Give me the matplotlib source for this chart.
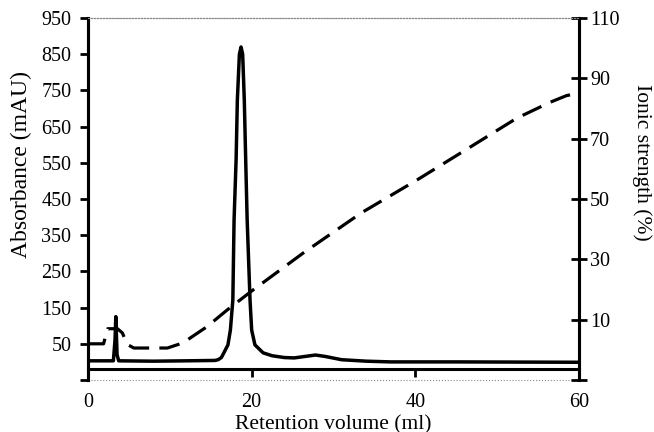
import numpy as np
import matplotlib.pyplot as plt

plt.rcParams['font.family'] = ['Liberation Serif', 'DejaVu Serif']

# absorbance trace (mAU) vs retention volume (ml)
vol_abs = [0, 3.1, 3.3, 3.4, 3.55, 3.75, 8, 12, 15.5, 15.9, 16.3, 16.6, 17.1, 17.4,
           17.7, 17.85, 18.1, 18.25, 18.5, 18.7, 18.9, 19.1, 19.3, 19.45, 19.8,
           20.0, 20.4, 21.4, 22.5, 24, 25.2, 26.5, 27.8, 29, 31, 34, 37, 45, 60]
absorb = [3, 3, 60, 125, 20, 3, 2, 3, 4, 6, 12, 25, 47, 88,
          171, 392, 560, 723, 850, 870, 850, 723, 530, 392, 171,
          88, 47, 25, 17, 12, 11, 15, 19, 15, 6, 2, 0, 0, -1]

# ionic strength (%) vs retention volume (ml)
vol_ion = [0, 1.9, 2.1, 2.4, 3.6, 4.2, 4.8, 5.6, 9.7, 11.6, 14.5, 17, 20,
           26.3, 33.4, 40.2, 46.7, 52.4, 56.5, 58.5, 60]
ionic = [2, 2, 4, 7, 7, 5.6, 1.8, 0.6, 0.6, 2.3, 7.6, 13.2, 19.5,
         32.1, 45.4, 56.3, 67.2, 76.8, 82.1, 84.3, 85]

x_ticks = [0, 20, 40, 60]
left_ticks = np.arange(-50, 951, 100)
right_ticks = np.arange(-10, 111, 20)

fig = plt.figure(figsize=(6.54, 4.32), dpi=100)
ax = fig.add_axes([88/654, 1 - 380/432, 491/654, 362/432])
ax2 = ax.twinx()

ax.plot(vol_abs, absorb, color='black', lw=2.5, solid_joinstyle='round', zorder=3)
ax2.plot(vol_ion, ionic, color='black', lw=2.3, linestyle=(0, (6.5, 3.2)))

ax.set_xlim(0, 60)
ax.set_ylim(-50, 950)
ax2.set_ylim(-10, 110)

# spines
for a in (ax, ax2):
    a.spines['top'].set_linestyle(':')
    a.spines['top'].set_color('#888888')
    a.spines['top'].set_linewidth(0.8)
    a.spines['left'].set_linewidth(2.2)
    a.spines['right'].set_linewidth(2.2)
    a.spines['bottom'].set_visible(False)
ax.spines['bottom'].set_visible(True)
ax.spines['bottom'].set_position(('data', -20))
ax.spines['bottom'].set_linewidth(2.2)
ax.axhline(-50, color='#888888', ls=':', lw=0.8, clip_on=False)

ax.set_xticks(x_ticks)
ax.set_xticklabels([str(v) for v in x_ticks])
ax.tick_params(axis='x', direction='out', length=6, width=2, labelsize=14.5, pad=11)

ax.set_yticks(left_ticks)
ax.set_yticklabels(['' if v < 0 else str(v) for v in left_ticks])
ax.tick_params(axis='y', direction='out', length=6, width=2, labelsize=14.5, pad=6)

ax2.set_yticks(right_ticks)
ax2.set_yticklabels(['' if v < 0 else str(v) for v in right_ticks])
ax2.tick_params(axis='y', direction='inout', length=12, width=2, labelsize=14.5, pad=2)

ax.set_xlabel('Retention volume (ml)', fontsize=15.5)
ax.xaxis.set_label_coords(0.5, -0.098)
ax.set_ylabel('Absorbance (mAU)', fontsize=17)
ax.yaxis.set_label_coords(-0.114, 0.594)
ax2.set_ylabel('Ionic strength (%)', fontsize=15.5, rotation=270, va='center')
ax2.yaxis.set_label_coords(1.128, 0.6)

fig.savefig('out.png', dpi=100)
